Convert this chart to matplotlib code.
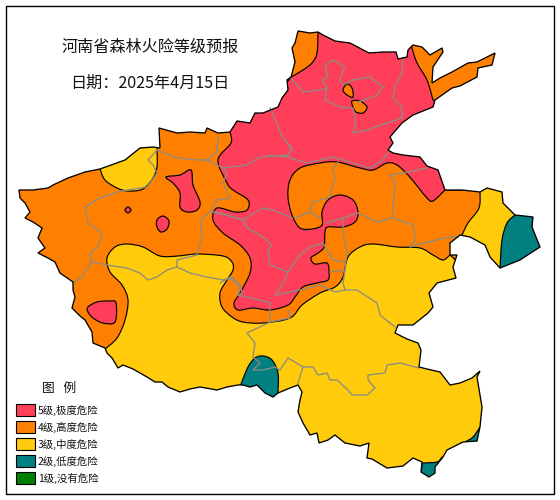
import matplotlib
matplotlib.use('Agg')
import matplotlib.pyplot as plt
from matplotlib.path import Path
from matplotlib.patches import PathPatch, Rectangle

plt.rcParams['font.family'] = ['Noto Sans CJK SC', 'DejaVu Sans']

RED = '#FF3F5A'
ORANGE = '#FF8000'
YELLOW = '#FFCB0A'
TEAL = '#008080'
GREEN = '#008000'
GRAY = '#8C8C84'

title = '河南省森林火险等级预报'
date_label = '日期：2025年4月15日'
legend_title = '图   例'
legend_labels = ['5级,极度危险', '4级,高度危险', '3级,中度危险', '2级,低度危险', '1级,没有危险']
legend_colors = [RED, ORANGE, YELLOW, TEAL, GREEN]
legend_tops = [404, 421, 438, 455, 472]

# province outline, image pixels, clockwise from the west end
outline = [
    (19, 190), (20, 198), (25, 203), (30, 212), (25, 218), (33, 222), (42, 228), (38, 238), (45, 248),
    (38, 253), (48, 258), (55, 262), (60, 273), (73, 282), (73, 290), (75, 297), (72, 308), (80, 316),
    (85, 320), (92, 332), (93, 343), (105, 348), (107, 353), (112, 358), (118, 368), (123, 365), (133, 369),
    (147, 377), (155, 382), (162, 382), (168, 387), (180, 392), (190, 389), (200, 387), (217, 390),
    (227, 387), (238, 385), (243, 385), (250, 387), (257, 385),
    (265, 393), (273, 397), (278, 393), (290, 388), (298, 385), (302, 392), (300, 400), (298, 412),
    (303, 423), (310, 435), (317, 433), (319, 443), (328, 440), (335, 435), (345, 443), (360, 446),
    (369, 443), (367, 458), (372, 459), (387, 468), (403, 466), (413, 458), (422, 462), (421, 472),
    (429, 477), (435, 473), (435, 467), (443, 457), (447, 450), (463, 442), (477, 441), (480, 427),
    (482, 407), (477, 377), (480, 371), (472, 378), (460, 383), (450, 385), (440, 372), (427, 369),
    (419, 367), (421, 350), (418, 343), (407, 339), (395, 333), (398, 325), (407, 325), (413, 325),
    (428, 313), (433, 307), (429, 293), (437, 283), (456, 278), (453, 267), (457, 255), (450, 255),
    (450, 243), (460, 235), (470, 237), (485, 245), (490, 257), (500, 268), (520, 260), (540, 247),
    (532, 227), (533, 217), (515, 215), (503, 203), (502, 192), (487, 188), (480, 192), (462, 190),
    (445, 190), (438, 170), (427, 166), (420, 157), (403, 155), (393, 153), (388, 150), (393, 143),
    (390, 137), (402, 123), (413, 115), (433, 107), (435, 100), (452, 88), (460, 86), (477, 77),
    (478, 68), (492, 65), (495, 53), (477, 62), (468, 63), (452, 72), (440, 78), (432, 83), (433, 67),
    (443, 52), (442, 48), (430, 55), (422, 47), (413, 45), (408, 50), (407, 57), (398, 59), (396, 52),
    (383, 52), (369, 53), (350, 43), (335, 41), (323, 35), (318, 32), (310, 33), (298, 31), (295, 43),
    (292, 48), (295, 62), (291, 77), (287, 80), (288, 90), (282, 98), (278, 107), (263, 113), (255, 113),
    (250, 123), (237, 121), (230, 132), (218, 133), (207, 128), (205, 133), (190, 132), (177, 133),
    (159, 128), (160, 148), (153, 147), (140, 148), (125, 160), (100, 169), (85, 172), (68, 178),
    (53, 185), (48, 188), (33, 190),
]

# level areas: each is (smooth contour, outside points closing it)
red_contour_nw = [(291, 77), (303, 70), (312, 63), (317, 53), (318, 33)]
red_outside_n = [(318, 20), (405, 20)]
red_contour_ne = [(412, 48), (417, 63), (427, 80), (433, 100)]
red_outside_e = [(470, 120), (470, 190)]
red_contour_main = [
    (445, 190), (433, 201), (427, 198), (418, 187), (408, 175), (397, 165), (387, 163), (373, 170),
    (360, 168), (337, 162), (320, 163), (300, 168), (290, 180), (288, 197), (292, 215), (300, 228),
    (312, 229), (322, 225), (322, 212), (328, 200), (340, 195), (353, 200), (358, 212), (355, 222),
    (343, 227), (328, 227), (325, 232), (324, 247), (318, 253), (311, 258), (315, 264), (327, 263),
    (329, 272), (328, 280), (317, 283), (303, 287), (295, 297), (288, 305), (270, 310), (253, 308),
    (238, 310), (234, 303), (240, 293), (250, 273), (250, 258), (240, 245), (223, 233), (213, 220),
    (217, 208), (235, 212), (247, 210), (248, 200), (233, 190), (227, 183), (218, 160), (231, 143),
    (230, 132),
]
red_outside_w = [(232, 100), (285, 85)]

yellow_contour_main = [
    (105, 349), (117, 338), (125, 320), (128, 300), (122, 285), (110, 272), (107, 258), (115, 247),
    (127, 244), (143, 247), (160, 256), (178, 256), (197, 254), (223, 256), (232, 262), (233, 270),
    (227, 280), (220, 293), (222, 307), (232, 317), (243, 322), (263, 323), (290, 318), (302, 305),
    (320, 293), (335, 287), (343, 277), (348, 257), (360, 247), (373, 244), (397, 247), (420, 248),
    (433, 255), (443, 260), (450, 255),
]
yellow_outside_main = [(500, 300), (500, 490), (100, 490)]
yellow_contour_nw = [(100, 169), (105, 180), (117, 188), (128, 191), (143, 189), (153, 178), (157, 167), (157, 150)]
yellow_outside_nw = [(157, 140), (95, 150)]
yellow_contour_e = [(480, 192), (479, 208), (468, 223), (462, 235)]
yellow_outside_e = [(462, 255), (510, 285), (550, 200), (480, 175)]

teal_contour_e = [(515, 215), (507, 223), (502, 240), (500, 268)]
teal_outside_e = [(560, 285), (560, 200)]
teal_contour_sw = [(241, 384), (248, 367), (255, 358), (263, 356), (272, 360), (278, 373), (278, 393)]
teal_outside_sw = [(270, 410), (240, 410)]
teal_contour_se = [(422, 463), (437, 462), (442, 457)]
teal_outside_se = [(455, 490), (420, 490)]
teal_contour_ee = [(465, 442), (473, 437), (480, 427)]
teal_outside_ee = [(495, 450)]

# closed islands
red_islands = [
    [(166, 177), (180, 175), (191, 170), (193, 185), (200, 202), (197, 210), (187, 212), (180, 207), (180, 193), (173, 183)],
    [(128, 207), (131, 210), (128, 213), (125, 210)],
    [(163, 216), (169, 221), (167, 229), (161, 232), (157, 227), (157, 220)],
    [(88, 307), (97, 302), (110, 301), (116, 303), (115, 322), (103, 323), (93, 318), (88, 312)],
]
orange_islands = [
    [(343, 90), (347, 84), (352, 88), (353, 97), (347, 95)],
    [(352, 101), (360, 101), (367, 107), (363, 113), (356, 112), (353, 107)],
]

# prefecture borders
borders = [
    [(291, 78), (303, 92), (320, 90), (327, 88), (322, 80), (328, 77), (325, 65), (333, 60), (345, 67), (340, 78), (343, 85), (353, 80), (370, 77), (383, 87), (377, 95), (365, 100), (357, 102)],
    [(327, 88), (325, 100), (340, 107), (353, 108), (356, 122), (353, 133), (367, 130), (387, 123), (402, 118)],
    [(403, 58), (402, 73), (395, 87), (393, 98), (402, 107), (402, 118)],
    [(270, 108), (277, 123), (282, 137), (292, 148), (287, 157), (270, 155)],
    [(287, 157), (307, 163), (333, 157), (353, 163), (370, 168), (383, 160), (388, 152)],
    [(338, 162), (332, 170), (335, 177), (330, 197), (313, 202), (310, 212), (295, 218)],
    [(310, 212), (320, 218)],
    [(390, 175), (395, 183), (393, 207), (392, 218)],
    [(390, 175), (403, 173), (427, 168)],
    [(358, 213), (377, 222), (392, 218), (413, 225), (415, 240), (410, 247), (427, 242), (450, 237), (458, 237)],
    [(358, 213), (343, 218), (327, 223)],
    [(243, 220), (263, 208), (273, 210), (292, 218)],
    [(343, 218), (343, 233), (347, 253), (345, 270), (343, 283), (345, 290), (357, 290), (377, 303), (380, 315), (395, 327)],
    [(345, 290), (335, 292), (320, 285), (300, 290), (275, 295), (283, 283), (288, 272), (270, 265), (268, 250), (272, 245), (260, 235), (247, 228), (243, 220), (220, 213), (212, 212)],
    [(288, 272), (300, 255), (310, 247), (323, 243), (333, 260), (345, 262)],
    [(330, 272), (345, 270)],
    [(270, 303), (270, 322), (247, 333), (255, 343), (253, 357), (260, 363), (253, 370), (263, 370), (275, 367), (280, 370), (288, 358), (303, 367), (298, 383)],
    [(288, 310), (290, 318), (270, 322)],
    [(220, 283), (230, 277), (240, 287), (238, 295), (267, 302), (270, 303)],
    [(303, 367), (313, 367), (318, 375), (327, 373), (330, 380), (337, 380), (348, 390), (352, 395), (367, 395), (375, 388), (368, 380), (368, 375), (385, 373), (387, 365), (400, 363), (419, 368)],
    [(157, 150), (148, 160), (153, 165), (157, 173), (147, 187), (128, 190), (117, 192), (100, 198), (85, 207), (88, 223), (102, 233), (98, 247), (90, 253), (92, 260), (82, 277), (73, 283)],
    [(92, 262), (107, 265), (127, 268), (140, 273), (148, 280), (157, 277), (167, 270), (177, 267), (177, 260), (197, 255), (202, 237), (200, 220), (210, 212), (217, 200), (230, 198), (223, 183), (227, 173), (223, 168), (207, 160), (198, 160), (177, 158), (157, 150)],
    [(207, 160), (217, 152), (218, 137)],
    [(223, 168), (247, 165), (260, 157), (287, 155)],
    [(285, 140), (292, 150)],
    [(177, 267), (190, 273), (207, 277), (223, 280), (233, 278), (240, 285), (242, 293), (238, 295)],
    [(212, 212), (227, 215), (243, 220)],
]


def smooth(pts, closed=False):
    # Catmull-Rom through the points, as cubic bezier pieces
    if closed:
        p = [pts[-1]] + pts + [pts[0], pts[1]]
    else:
        p = [pts[0]] + pts + [pts[-1]]
    verts = [pts[0]]
    for i in range(1, len(p) - 2):
        x0, y0 = p[i - 1]
        x1, y1 = p[i]
        x2, y2 = p[i + 1]
        x3, y3 = p[i + 2]
        verts.append((x1 + (x2 - x0) / 6, y1 + (y2 - y0) / 6))
        verts.append((x2 - (x3 - x1) / 6, y2 - (y3 - y1) / 6))
        verts.append((x2, y2))
    codes = [Path.MOVETO] + [Path.CURVE4] * (len(verts) - 1)
    return verts, codes


def area_path(*parts):
    # parts alternate between smooth contours and straight outside runs
    verts, codes = [], []
    for n, part in enumerate(parts):
        if n % 2 == 0:
            v, c = smooth(part)
            if verts:
                c[0] = Path.LINETO
        else:
            v, c = part, [Path.LINETO] * len(part)
        verts += v
        codes += c
    verts.append(verts[0])
    codes.append(Path.CLOSEPOLY)
    return Path(verts, codes)


def island_path(pts):
    v, c = smooth(pts, closed=True)
    return Path(v + [v[0]], c + [Path.CLOSEPOLY])


fig = plt.figure(figsize=(5.6, 5.0), dpi=100)
ax = fig.add_axes([0, 0, 1, 1])
ax.set_xlim(0, 560)
ax.set_ylim(500, 0)
ax.axis('off')

ax.add_patch(Rectangle((5.5, 5.5), 548, 488, fc='white', ec='black', lw=1.0))

province = PathPatch(Path(outline + [outline[0]], closed=True), fc=ORANGE, ec='none', zorder=1)
ax.add_patch(province)

areas = [
    (RED, area_path(red_contour_nw, red_outside_n, red_contour_ne, red_outside_e, red_contour_main, red_outside_w)),
    (YELLOW, area_path(yellow_contour_main, yellow_outside_main)),
    (YELLOW, area_path(yellow_contour_nw, yellow_outside_nw)),
    (YELLOW, area_path(yellow_contour_e, yellow_outside_e)),
    (TEAL, area_path(teal_contour_e, teal_outside_e)),
    (TEAL, area_path(teal_contour_sw, teal_outside_sw)),
    (TEAL, area_path(teal_contour_se, teal_outside_se)),
    (TEAL, area_path(teal_contour_ee, teal_outside_ee)),
]
for color, path in areas:
    patch = PathPatch(path, fc=color, ec='black', lw=0.85, zorder=2)
    ax.add_patch(patch)
    patch.set_clip_path(province)

for pts in red_islands:
    ax.add_patch(PathPatch(island_path(pts), fc=RED, ec='black', lw=0.85, zorder=3))
for pts in orange_islands:
    ax.add_patch(PathPatch(island_path(pts), fc=ORANGE, ec='black', lw=0.85, zorder=3))

for line in borders:
    ax.plot([p[0] for p in line], [p[1] for p in line], color=GRAY, lw=0.95, zorder=4, solid_joinstyle='round')

ax.add_patch(PathPatch(Path(outline + [outline[0]], closed=True), fc='none', ec='black', lw=0.95, zorder=5))

ax.text(150, 47, title, fontsize=11.6, ha='center', va='center', color='#111111')
ax.text(150, 83, date_label, fontsize=11.6, ha='center', va='center', color='#111111')

ax.text(59, 388, legend_title, fontsize=9.2, ha='center', va='center', color='#111111')
for top, color, label in zip(legend_tops, legend_colors, legend_labels):
    ax.add_patch(Rectangle((15.5, top), 19.5, 12, fc=color, ec='black', lw=0.8))
    ax.text(38, top + 6.5, label, fontsize=7.5, ha='left', va='center', color='#111111')

fig.savefig('out.png', dpi=100)
